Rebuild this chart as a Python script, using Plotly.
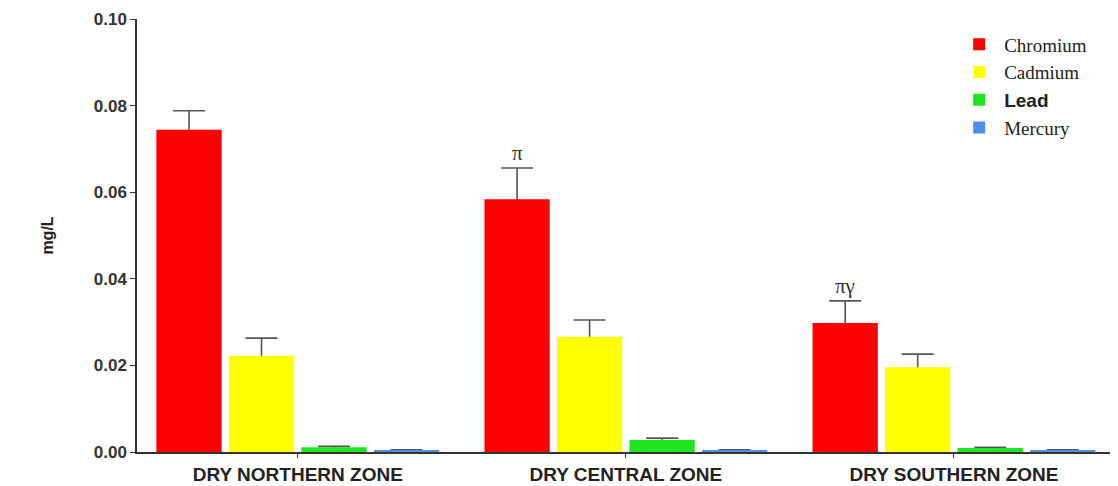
import plotly.graph_objects as go

zones = ["DRY NORTHERN ZONE", "DRY CENTRAL ZONE", "DRY SOUTHERN ZONE"]
metals = ["Chromium", "Cadmium", "Lead", "Mercury"]
legend_names = [
    "Chromium",
    "Cadmium",
    "<span style='font-family:Liberation Sans, Arial, sans-serif'><b>Lead</b></span>",
    "Mercury",
]
colors = ["#FF0000", "#FFFF00", "#1EE61E", "#4A8FEA"]

chromium = [0.0744, 0.0584, 0.0298]
cadmium = [0.0222, 0.0266, 0.0196]
lead = [0.0011, 0.0028, 0.0009]
mercury = [0.0004, 0.0004, 0.0004]

chromium_err = [0.0044, 0.0072, 0.0051]
cadmium_err = [0.0041, 0.0039, 0.0030]
lead_err = [0.0002, 0.0004, 0.0002]
mercury_err = [0.0001, 0.0001, 0.0001]

labels = ["", "π", "πγ"]  # significance marks above Chromium bars

values = [chromium, cadmium, lead, mercury]
errors = [chromium_err, cadmium_err, lead_err, mercury_err]

bargap = 0.116
fig = go.Figure()
# upper error bars first; the opaque bars drawn afterwards hide their lower part
for name, v, e in zip(metals, values, errors):
    fig.add_trace(go.Bar(
        x=zones, y=v, name=name, offsetgroup=name, showlegend=False, hoverinfo="skip",
        marker=dict(color="rgba(0,0,0,0)", line=dict(width=0)),
        error_y=dict(type="data", symmetric=False, array=e,
                     arrayminus=[min(val, 0.001) for val in v],
                     color="#555555", thickness=1.6, width=16),
    ))
for name, lname, col, v in zip(metals, legend_names, colors, values):
    fig.add_trace(go.Bar(
        x=zones, y=v, name=lname, offsetgroup=name,
        marker=dict(color=col, line=dict(width=0)),
    ))

slot = (1 - bargap) / len(metals)
red_offset = -(1 - bargap) / 2 + slot / 2
for i, lab in enumerate(labels):
    if lab:
        fig.add_annotation(
            x=i + red_offset, y=chromium[i] + chromium_err[i], xref="x", yref="y",
            text=lab, showarrow=False, yanchor="bottom", yshift=1,
            font=dict(family="Liberation Serif, Times New Roman, serif", size=21, color="#333333"),
        )

# the page body adds an 8px offset; size the figure so the plot area lands where the reference has it
fig.update_layout(
    width=1110, height=478,
    margin=dict(l=129, r=0, t=11, b=34),
    paper_bgcolor="white", plot_bgcolor="white",
    barmode="group", bargap=bargap, bargroupgap=0.1,
    showlegend=True,
    legend=dict(
        x=0.833, y=0.985, xanchor="left", yanchor="top",
        font=dict(family="Liberation Serif, Times New Roman, serif", size=19, color="#222222"),
        itemwidth=40, tracegroupgap=0, bgcolor="rgba(0,0,0,0)",
    ),
    xaxis=dict(
        type="category", range=[-0.49, 2.5], automargin=False,
        showline=True, linecolor="#333333", linewidth=1.5,
        ticks="outside", ticklen=4, tickcolor="#333333",
        tickfont=dict(family="Liberation Sans, Arial, sans-serif", size=19, color="#222222", weight="bold"),
        showgrid=False, zeroline=False,
    ),
    yaxis=dict(
        range=[0, 0.10], automargin=False, tickvals=[0, 0.02, 0.04, 0.06, 0.08, 0.10],
        ticktext=["0.00", "0.02", "0.04", "0.06", "0.08", "0.10"],
        showline=True, linecolor="#333333", linewidth=1.5,
        ticks="outside", ticklen=5, tickcolor="#333333",
        tickfont=dict(family="Liberation Sans, Arial, sans-serif", size=17, color="#333333", weight="bold"),
        showgrid=False, zeroline=False,
        title=dict(text="mg/L", standoff=36,
                   font=dict(family="Liberation Sans, Arial, sans-serif", size=16, color="#222222", weight="bold")),
    ),
)

fig.write_html("out.html")
